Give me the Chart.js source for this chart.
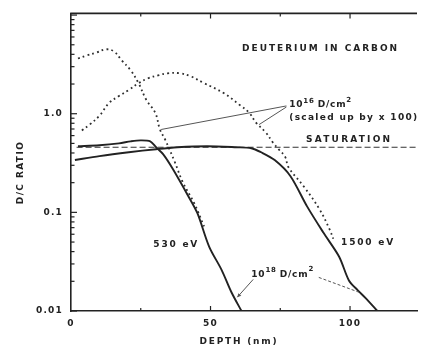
<!DOCTYPE html>
<html>
<head>
<meta charset="utf-8">
<script src="https://cdn.jsdelivr.net/npm/chart.js@4.4.1/dist/chart.umd.min.js"></script>
<style>
  html, body { margin: 0; padding: 0; background: #fff; }
  #wrap { width: 424px; height: 349px; }
</style>
</head>
<body>
<div id="wrap"><canvas id="chart"></canvas></div>
<script>
// depth in nm, D/C ratio
const depth530 = [2.5, 10.2, 17.2, 21.4, 24.9, 28.4, 30.5, 33.0, 36.5, 42.1, 45.3, 49.5, 54.0, 57.5, 61.1];
const ratio530 = [0.468, 0.479, 0.501, 0.525, 0.537, 0.525, 0.457, 0.389, 0.275, 0.145, 0.098, 0.045, 0.026, 0.0155, 0.010];

const depth1500 = [1.4, 10.2, 20.7, 30.5, 38.2, 48.8, 59.3, 64.6, 68.1, 73.0, 78.6, 84.6, 90.5, 96.1, 99.6, 102.8, 105.6, 109.8];
const ratio1500 = [0.339, 0.372, 0.407, 0.437, 0.457, 0.468, 0.457, 0.447, 0.407, 0.339, 0.234, 0.115, 0.062, 0.0355, 0.0204, 0.0162, 0.0135, 0.010];

// 10^16 D/cm2 profiles (scaled up by x 100)
const depthLow530 = [2.5, 5.6, 9.1, 12.6, 15.4, 18.2, 21.4, 24.2, 27.0, 30.2, 31.9, 33.7, 37.2, 40.0, 44.2, 47.7];
const ratioLow530 = [3.63, 3.89, 4.17, 4.5, 4.27, 3.47, 2.75, 2.04, 1.38, 1.02, 0.69, 0.55, 0.324, 0.204, 0.123, 0.072];

const depthLow1500 = [3.9, 6.7, 10.2, 13.7, 17.2, 20.7, 24.2, 27.7, 31.2, 34.7, 38.9, 42.8, 47.7, 54.7, 60.4, 63.9, 66.3, 69.8, 72.3, 74.4, 76.8, 77.9, 83.5, 89.1, 92.6, 94.0];
const ratioLow1500 = [0.676, 0.776, 0.955, 1.29, 1.51, 1.74, 2.04, 2.29, 2.45, 2.57, 2.57, 2.40, 2.04, 1.62, 1.23, 1.02, 0.813, 0.646, 0.513, 0.437, 0.363, 0.288, 0.182, 0.107, 0.068, 0.054];

const saturationDepth = [2, 124];
const saturationRatio = [0.457, 0.457];

const xTickLabels = [0, 50, 100];
const xMinorTicks = [25, 50, 75, 100];
const yTickLabels = { "1": "1.0", "0.1": "0.1", "0.01": "0.01" };

const ink = "#222";
const family = "'DejaVu Sans', sans-serif";
const font = "bold 9px " + family;
const supFont = "bold 7px " + family;

function pairs(xs, ys) {
  return xs.map((x, i) => ({ x: x, y: ys[i] }));
}

function spaced(ctx, str, x, y, width, align) {
  ctx.save();
  ctx.letterSpacing = "0px";
  const w = ctx.measureText(str).width;
  const sp = width ? Math.max(0, (width - w) / Math.max(1, str.length - 1)) : 0.8;
  ctx.letterSpacing = sp + "px";
  const total = w + sp * (str.length - 1);
  let x0 = x;
  if (align === "center") x0 = x - total / 2;
  if (align === "right") x0 = x - total;
  ctx.textAlign = "left";
  ctx.fillText(str, x0, y);
  ctx.restore();
  return x0 + total + sp;
}

const decorations = {
  id: "decorations",
  beforeDraw(chart) {
    chart.ctx.letterSpacing = "1.2px";
  },
  afterDraw(chart) {
    const ctx = chart.ctx;
    const xs = chart.scales.x, ys = chart.scales.y;
    const area = chart.chartArea;
    const P = (x, y) => [xs.getPixelForValue(x), ys.getPixelForValue(y)];
    ctx.save();
    ctx.letterSpacing = "0px";
    ctx.strokeStyle = ink;
    ctx.fillStyle = ink;

    // top frame
    ctx.lineWidth = 1.6;
    ctx.beginPath();
    ctx.moveTo(area.left - 0.8, area.top);
    ctx.lineTo(area.right, area.top);
    ctx.stroke();

    // x ticks, top and bottom
    ctx.lineWidth = 1.2;
    xMinorTicks.forEach(v => {
      const px = xs.getPixelForValue(v);
      const len = v % 50 === 0 ? 5 : 3;
      ctx.beginPath();
      ctx.moveTo(px, area.bottom);
      ctx.lineTo(px, area.bottom - len);
      ctx.moveTo(px, area.top);
      ctx.lineTo(px, area.top + len);
      ctx.stroke();
    });

    // log ticks on the left axis
    for (let d = -2; d <= 1; d++) {
      for (let m = 1; m <= 9; m++) {
        const v = m * Math.pow(10, d);
        if (v > ys.max) continue;
        const py = ys.getPixelForValue(v);
        const len = m === 1 ? 6 : 3.5;
        ctx.beginPath();
        ctx.moveTo(area.left, py);
        ctx.lineTo(area.left + len, py);
        ctx.stroke();
      }
    }

    // leader lines
    ctx.lineWidth = 1;
    ctx.strokeStyle = "#555";
    const line = (a, b, dash) => {
      ctx.setLineDash(dash || []);
      ctx.beginPath();
      ctx.moveTo(a[0], a[1]);
      ctx.lineTo(b[0], b[1]);
      ctx.stroke();
      ctx.setLineDash([]);
    };
    line(P(77.2, 1.20), P(32.3, 0.692));
    line(P(77.2, 1.17), P(67.4, 0.776));
    line(P(65.3, 0.0209), P(59.6, 0.0138));
    line(P(88.8, 0.0219), P(103.2, 0.0155), [3, 2]);
    // small arrow head on 10^18 leader
    const tip = P(59.6, 0.0138);
    ctx.beginPath();
    ctx.moveTo(tip[0], tip[1]);
    ctx.lineTo(tip[0] + 1, tip[1] - 4);
    ctx.lineTo(tip[0] + 4, tip[1] - 1.5);
    ctx.closePath();
    ctx.fillStyle = "#555";
    ctx.fill();

    // texts
    ctx.fillStyle = ink;
    ctx.font = font;
    ctx.textBaseline = "middle";
    let p = P(89.1, 4.57);
    spaced(ctx, "DEUTERIUM IN CARBON", p[0], p[1], 155, "center");
    p = P(99.3, 0.55);
    spaced(ctx, "SATURATION", p[0], p[1], 84, "center");
    p = P(29.5, 0.0468);
    spaced(ctx, "530 eV", p[0], p[1], 44, "left");
    p = P(96.8, 0.049);
    spaced(ctx, "1500 eV", p[0], p[1], 52, "left");

    const dose = (pos, exp) => {
      let x = spaced(ctx, "10", pos[0], pos[1], 0, "left");
      ctx.font = supFont;
      x = spaced(ctx, exp, x, pos[1] - 4, 0, "left");
      ctx.font = font;
      x = spaced(ctx, "D/cm", x + 3, pos[1], 0, "left");
      ctx.font = supFont;
      spaced(ctx, "2", x, pos[1] - 5, 0, "left");
      ctx.font = font;
    };
    dose(P(78.2, 1.23), "16");
    p = P(78.2, 0.912);
    spaced(ctx, "(scaled up by x 100)", p[0], p[1], 128, "left");
    dose(P(64.6, 0.0234), "18");

    // axis titles
    spaced(ctx, "DEPTH (nm)", (area.left + area.right) / 2 - 6, area.bottom + 31, 77, "center");
    ctx.save();
    ctx.translate(21, (area.top + area.bottom) / 2 + 11);
    ctx.rotate(-Math.PI / 2);
    spaced(ctx, "D/C RATIO", 0, 0, 62, "center");
    ctx.restore();

    ctx.restore();
  }
};

new Chart(document.getElementById("chart"), {
  type: "line",
  data: {
    datasets: [
      {
        label: "530 eV",
        data: pairs(depth530, ratio530),
        borderColor: ink, borderWidth: 1.9, pointRadius: 0,
        tension: 0.3
      },
      {
        label: "1500 eV",
        data: pairs(depth1500, ratio1500),
        borderColor: ink, borderWidth: 1.9, pointRadius: 0,
        tension: 0.3
      },
      {
        label: "530 eV, 10^16 D/cm2 x100",
        data: pairs(depthLow530, ratioLow530),
        borderColor: "#2e2e2e", borderWidth: 1.8, borderDash: [1.8, 3.2], pointRadius: 0,
        tension: 0.4
      },
      {
        label: "1500 eV, 10^16 D/cm2 x100",
        data: pairs(depthLow1500, ratioLow1500),
        borderColor: "#2e2e2e", borderWidth: 1.8, borderDash: [1.8, 3.2], pointRadius: 0,
        tension: 0.4
      },
      {
        label: "Saturation",
        data: pairs(saturationDepth, saturationRatio),
        borderColor: "#333", borderWidth: 1.2, borderDash: [6, 3], pointRadius: 0
      }
    ]
  },
  options: {
    responsive: true,
    maintainAspectRatio: false,
    animation: false,
    layout: { padding: { top: 9, right: 0, left: 0, bottom: 0 } },
    plugins: { legend: { display: false }, tooltip: { enabled: false } },
    scales: {
      x: {
        type: "linear",
        min: 0,
        max: 124,
        afterFit(s) { s.height = 38; },
        grid: { display: false, drawTicks: false },
        border: { display: true, color: ink, width: 1.6 },
        ticks: {
          stepSize: 50,
          padding: 7,
          color: ink,
          font: { family: family, size: 9, weight: "bold" },
          callback: v => xTickLabels.includes(v) ? String(v) : ""
        }
      },
      y: {
        type: "logarithmic",
        min: 0.01,
        max: 10.4,
        afterFit(s) { s.width = 71; },
        grid: { display: false, drawTicks: false },
        border: { display: true, color: ink, width: 1.6 },
        ticks: {
          autoSkip: false,
          padding: 8,
          color: ink,
          font: { family: family, size: 9, weight: "bold" },
          callback: v => {
            const key = String(Number(v.toPrecision(3)));
            return yTickLabels[key] || "";
          }
        }
      }
    }
  },
  plugins: [decorations]
});
</script>
</body>
</html>
